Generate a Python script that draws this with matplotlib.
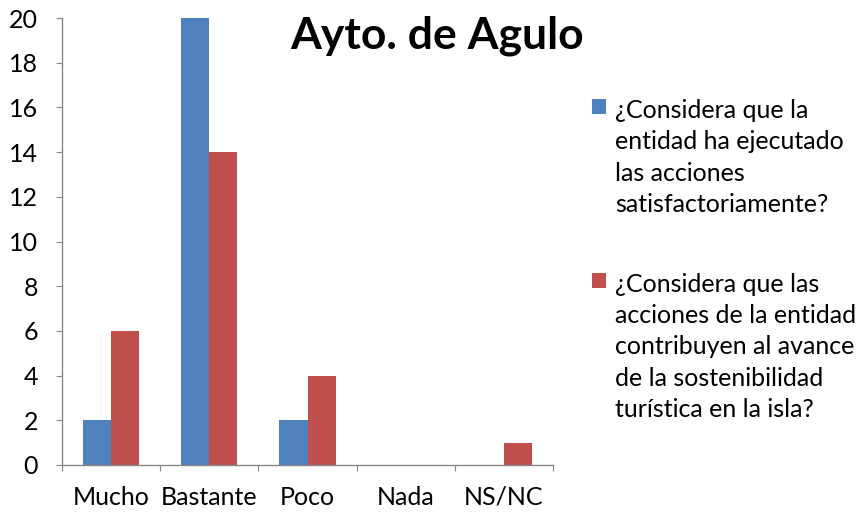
import matplotlib
matplotlib.use("Agg")
import matplotlib.pyplot as plt
import numpy as np

categories = ["Mucho", "Bastante", "Poco", "Nada", "NS/NC"]
serie1 = [2, 20, 2, 0, 0]
serie2 = [6, 14, 4, 0, 1]
label1 = "¿Considera que la\nentidad ha ejecutado\nlas acciones\nsatisfactoriamente?"
label2 = "¿Considera que las\nacciones de la entidad\ncontribuyen al avance\nde la sostenibilidad\nturística en la isla?"
title = "Ayto. de Agulo"
yticks = list(range(0, 21, 2))

plt.rcParams['font.family'] = ['Lato', 'DejaVu Sans']
W, H = 858, 514
fig = plt.figure(figsize=(W / 100, H / 100), dpi=100)
ax = fig.add_axes([62 / W, 1 - 465 / H, (553 - 62) / W, (465 - 18) / H])

x = np.arange(len(categories))
bw = 0.286
b1 = ax.bar(x - bw / 2, serie1, bw, color="#4F81BD", label=label1)
b2 = ax.bar(x + bw / 2, serie2, bw, color="#C0504D", label=label2)

ax.set_xlim(-0.5, len(categories) - 0.5)
ax.set_ylim(0, 20)
ax.set_yticks(yticks)
ax.set_yticklabels([str(v) for v in yticks])
ax.set_xticks(np.arange(len(categories) + 1) - 0.5)
ax.set_xticklabels([])
ax.set_xticks(x, minor=True)
ax.set_xticklabels(categories, minor=True)

fs = 18
gray = "#868686"
for s in ["top", "right"]:
    ax.spines[s].set_visible(False)
for s in ["left", "bottom"]:
    ax.spines[s].set_color(gray)
    ax.spines[s].set_linewidth(1.0)
ax.tick_params(axis="y", which="major", direction="out", length=4.3, color=gray,
               labelsize=fs, pad=13)
ax.tick_params(axis="x", which="major", direction="out", length=4.3, color=gray)
ax.tick_params(axis="x", which="minor", length=0, labelsize=fs, pad=15)

fig.text(437 / W, 1 - 49 / H, title, fontsize=32, fontweight="bold",
         ha="center", va="baseline")

leg = fig.legend(handles=[b1, b2], labels=[label1, label2], loc="upper left",
                 bbox_to_anchor=(592 / W, 1 - 99 / H), frameon=False,
                 fontsize=fs, borderpad=0, borderaxespad=0,
                 handlelength=0.56, handleheight=0.56, handletextpad=0.35,
                 labelspacing=2.28)
for t in leg.get_texts():
    t.set_linespacing(1.435)
try:
    for col in leg._legend_handle_box.get_children():
        for hp in col.get_children():
            hp.align = "top"
except Exception:
    pass

fig.savefig("out.png", dpi=100)
